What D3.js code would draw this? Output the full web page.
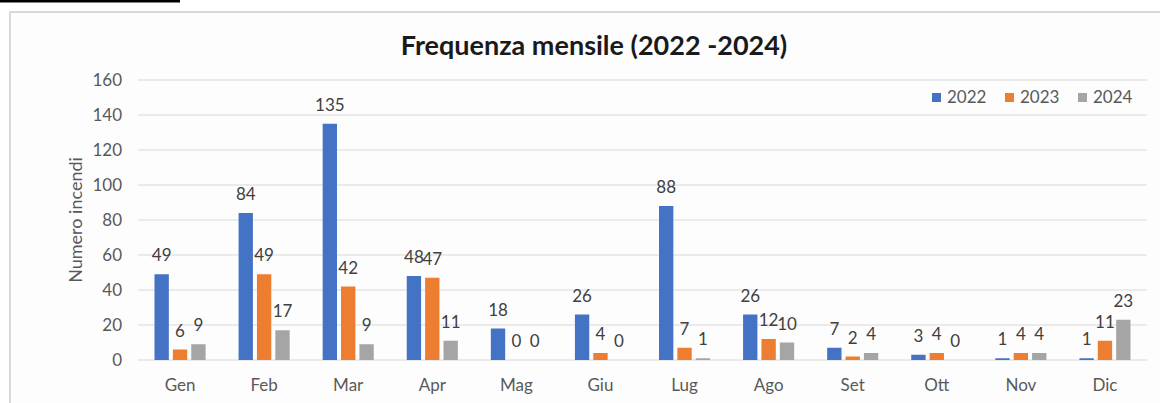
<!DOCTYPE html>
<html>
<head>
<meta charset="utf-8">
<script src="https://cdn.jsdelivr.net/npm/d3@7"></script>
<style>
  body { margin: 0; background: #fff; }
  text { font-family: Lato, "Open Sans", sans-serif; }
</style>
</head>
<body>
<svg id="chart" width="1160" height="403"></svg>
<script>
// data
var months = ["Gen", "Feb", "Mar", "Apr", "Mag", "Giu", "Lug", "Ago", "Set", "Ott", "Nov", "Dic"];
var years = ["2022", "2023", "2024"];
var values2022 = [49, 84, 135, 48, 18, 26, 88, 26, 7, 3, 1, 1];
var values2023 = [6, 49, 42, 47, 0, 4, 7, 12, 2, 4, 4, 11];
var values2024 = [9, 17, 9, 11, 0, 0, 1, 10, 4, 0, 4, 23];
var yTicks = [0, 20, 40, 60, 80, 100, 120, 140, 160];
var colors = ["#4472C4", "#ED7D31", "#A5A5A5"];

var series = [values2022, values2023, values2024];

var svg = d3.select('#chart');

// underline left over from the page above
svg.append('rect')
    .attr('x', 0).attr('y', 0)
    .attr('width', 180).attr('height', 2.5)
    .attr('fill', '#000');

// chart frame
svg.append('rect')
    .attr('x', 10).attr('y', 12)
    .attr('width', 1160).attr('height', 400)
    .attr('fill', '#fdfdfd')
    .attr('stroke', '#d9d9d9')
    .attr('stroke-width', 2);

var plot = {l: 138, r: 1147, t: 80, b: 360};

var xScale = d3.scaleBand()
    .domain(months)
    .range([plot.l, plot.r]);

var xInner = d3.scaleBand()
    .domain(years)
    .range([16.5, xScale.bandwidth() - 16.5])
    .paddingInner(0.22);

var yScale = d3.scaleLinear()
    .domain([0, 160])
    .range([plot.b, plot.t]);

// gridlines
svg.append('g')
    .selectAll('line')
    .data(yTicks)
    .enter()
    .append('line')
    .attr('x1', plot.l)
    .attr('x2', plot.r)
    .attr('y1', function(d) { return yScale(d); })
    .attr('y2', function(d) { return yScale(d); })
    .attr('stroke', '#d9d9d9')
    .attr('stroke-width', 1.2);

// y tick labels
svg.append('g')
    .selectAll('text')
    .data(yTicks)
    .enter()
    .append('text')
    .attr('x', 122)
    .attr('y', function(d) { return yScale(d) + 6; })
    .attr('text-anchor', 'end')
    .attr('font-size', 17)
    .attr('fill', '#595959')
    .text(function(d) { return d; });

// x labels
svg.append('g')
    .selectAll('text')
    .data(months)
    .enter()
    .append('text')
    .attr('x', function(d) { return xScale(d) + xScale.bandwidth() / 2; })
    .attr('y', 391)
    .attr('text-anchor', 'middle')
    .attr('font-size', 17)
    .attr('fill', '#595959')
    .text(function(d) { return d; });

// bars + labels
series.forEach(function(vals, si) {
    var g = svg.append('g');
    var bars = g.selectAll('rect')
        .data(vals)
        .enter();

    bars.append('rect')
        .attr('x', function(d, i) { return xScale(months[i]) + xInner(years[si]); })
        .attr('y', function(d) { return yScale(d); })
        .attr('width', xInner.bandwidth())
        .attr('height', function(d) { return Math.max(yScale(0) - yScale(d), d > 0 ? 1.5 : 0); })
        .attr('fill', colors[si]);

    bars.append('text')
        .attr('x', function(d, i) { return xScale(months[i]) + xInner(years[si]) + xInner.bandwidth() / 2; })
        .attr('y', function(d) { return yScale(d) - 13; })
        .attr('text-anchor', 'middle')
        .attr('font-size', 17)
        .attr('fill', '#404040')
        .text(function(d) { return d; });
});

// title
svg.append('text')
    .attr('x', 594)
    .attr('y', 55)
    .attr('text-anchor', 'middle')
    .attr('font-size', 27)
    .attr('font-weight', 'bold')
    .attr('fill', '#1a1a1a')
    .text('Frequenza mensile (2022 -2024)');

// y axis title
svg.append('text')
    .attr('transform', 'translate(82,220) rotate(-90)')
    .attr('text-anchor', 'middle')
    .attr('font-size', 18)
    .attr('fill', '#595959')
    .text('Numero incendi');

// legend
var legendX = [932, 1005, 1078];
var legend = svg.append('g')
    .selectAll('g')
    .data(years)
    .enter()
    .append('g')
    .attr('transform', function(d, i) { return 'translate(' + legendX[i] + ',103)'; });

legend.append('rect')
    .attr('x', 0).attr('y', -10)
    .attr('width', 9).attr('height', 9)
    .attr('fill', function(d, i) { return colors[i]; });

legend.append('text')
    .attr('x', 15)
    .attr('y', 0)
    .attr('font-size', 17)
    .attr('fill', '#595959')
    .text(function(d) { return d; });
</script>
</body>
</html>
